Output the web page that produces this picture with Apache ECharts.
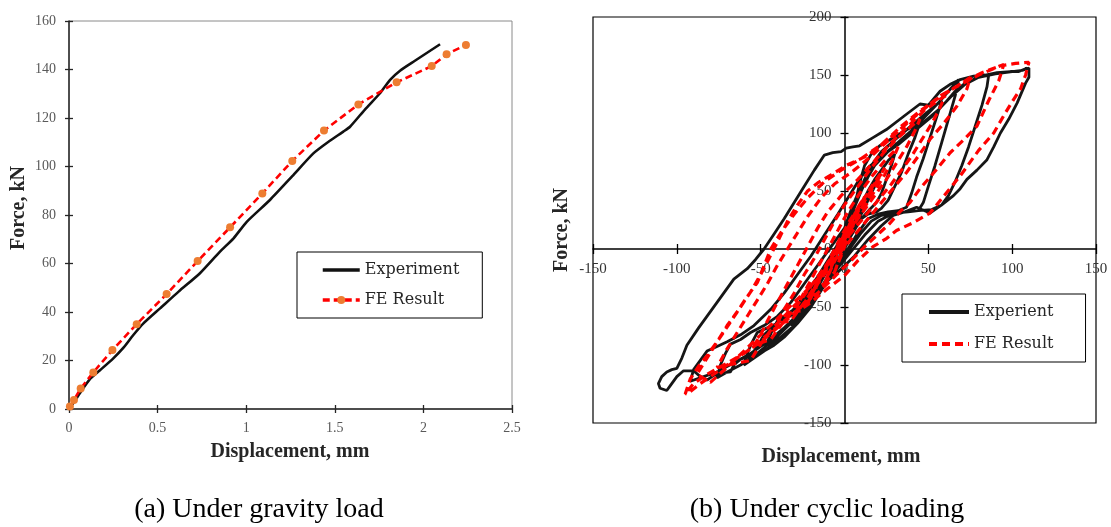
<!DOCTYPE html>
<html><head><meta charset="utf-8">
<script src="https://cdn.jsdelivr.net/npm/echarts@6/dist/echarts.min.js"></script>
<style>html,body{margin:0;padding:0;background:#fff;}#c{width:1111px;height:527px;}</style>
</head><body><div id="c"></div>
<script>
// ---------- (a) gravity load ----------
const gravityXTicks = [0, 0.5, 1, 1.5, 2, 2.5];
const gravityYTicks = [0, 20, 40, 60, 80, 100, 120, 140, 160];
const gravityExperiment = [[0,0],[0.03,3],[0.062,6.6],[0.12,12.5],[0.175,16],[0.25,20.9],[0.31,25.5],[0.363,30.5],[0.42,35.3],[0.514,41.5],[0.62,48.5],[0.739,56],[0.852,64.9],[0.93,70.5],[1.003,77.2],[1.134,86.2],[1.26,96],[1.379,105.4],[1.47,110.5],[1.548,114.4],[1.586,116.4],[1.67,123.5],[1.755,130.2],[1.812,135.7],[1.868,139.5],[1.95,143.5],[2.094,150.4]];
const gravityFE = [[0.005,1],[0.028,3.7],[0.066,8.5],[0.137,15.1],[0.245,24.3],[0.382,35],[0.551,47.4],[0.726,61],[0.909,74.9],[1.091,88.9],[1.26,102.3],[1.439,114.8],[1.633,125.6],[1.849,134.7],[2.047,141.4],[2.131,146.3],[2.24,150.1]];

// ---------- (b) cyclic loading ----------
const cyclicXTicks = [-150, -100, -50, 0, 50, 100, 150];
const cyclicYTicks = [-150, -100, -50, 0, 50, 100, 150, 200];
const cyclicExperiment = [
[0,0],[4,14],[8,28],[12,40],[16,52],[20,62],[18,54],[14,42],[10,30],[6,18],[2,6],[-2,-6],[-6,-16],[-10,-26],[-14,-34],[-17,-40],[-20,-46],[-18,-38],[-14,-28],[-10,-18],[-6,-8],[-2,2],
[2,10],[6,24],[10,38],[14,50],[18,60],[22,68],[26,76],[30,82],[28,72],[25,60],[22,48],[19,40],[15,34],[10,26],[5,14],[0,2],[-5,-12],[-10,-24],[-15,-36],[-20,-46],[-25,-56],[-29,-62],[-32,-66],[-30,-58],[-27,-48],[-23,-42],[-18,-34],[-12,-22],[-6,-8],[0,6],
[3,20],[6,36],[8,50],[10,62],[12,72],[16,82],[21,89],[28,95],[36,102],[45,109],[42,96],[38,82],[34,66],[30,54],[26,42],[22,35],[19,32],[14,30],[10,26],[6,18],[2,6],[-3,-8],[-8,-22],[-14,-36],[-20,-50],[-28,-64],[-36,-76],[-42,-83],[-48,-88],[-46,-80],[-43,-70],[-40,-62],[-34,-56],[-28,-50],[-22,-40],[-16,-26],[-10,-12],[-4,4],
[0,16],[4,30],[8,46],[12,60],[16,72],[22,84],[30,94],[38,104],[46,114],[52,121],[58,128],[55,114],[51,96],[47,78],[43,62],[40,48],[37,36],[32,33],[26,32],[20,30],[14,26],[8,14],[2,0],[-6,-18],[-14,-36],[-22,-52],[-30,-66],[-38,-76],[-46,-86],[-54,-94],[-60,-100],[-58,-90],[-55,-80],[-52,-72],[-46,-68],[-40,-64],[-34,-58],[-28,-48],[-22,-36],[-16,-24],[-10,-10],[-4,4],
[2,20],[6,36],[10,50],[14,62],[18,72],[24,82],[32,92],[40,102],[48,114],[56,126],[62,136],[68,146],[66,132],[62,112],[58,92],[54,72],[50,54],[47,40],[44,33],[38,32],[30,31],[22,29],[16,24],[10,14],[4,2],[-4,-14],[-12,-30],[-22,-48],[-32,-64],[-42,-78],[-52,-90],[-62,-100],[-70,-106],[-76,-111],[-74,-100],[-71,-90],[-68,-82],[-62,-78],[-56,-72],[-48,-66],[-40,-58],[-32,-46],[-24,-30],[-16,-14],[-8,2],[0,18],
[4,34],[8,48],[12,60],[18,72],[26,84],[36,96],[46,108],[56,120],[64,132],[72,142],[80,148],[86,150],[85,140],[82,124],[78,106],[74,88],[70,72],[66,58],[62,46],[58,38],[52,34],[44,33],[36,32],[28,30],[20,24],[12,12],[4,-2],[-6,-20],[-16,-38],[-26,-54],[-36,-68],[-46,-80],[-56,-90],[-66,-98],[-76,-106],[-84,-110],[-92,-114],[-90,-104],[-86,-96],[-82,-88],[-76,-84],[-70,-80],[-62,-74],[-54,-66],[-44,-52],[-36,-38],[-28,-22],[-20,-6],[-12,12],[-4,30],
[2,44],[8,58],[14,70],[22,80],[32,90],[42,102],[52,114],[60,126],[66,136],[72,143],[80,148],[90,151],[100,153],[106,154],[110,156],[110,148],[108,143],[103,126],[98,112],[93,100],[89,88],[85,77],[79,68],[73,60],[69,52],[65,46],[58,38],[51,31],[46,34],[43,36],[36,32],[29,29],[22,20],[14,8],[6,-6],[-4,-20],[-12,-30],[-18,-36],[-24,-48],[-30,-56],[-36,-60],[-42,-66],[-48,-74],[-52,-84],[-56,-92],[-62,-95],[-66,-100],[-68,-106],[-74,-107],[-78,-109],[-82,-113],[-86,-110],[-90,-105],[-96,-105],[-100,-110],[-104,-118],[-106,-122],[-110,-120],[-111,-116],[-109,-110],[-106,-106],[-103,-104],[-100,-103],[-97,-94],[-94,-83],[-87,-68],[-80,-54],[-73,-40],[-66,-26],[-58,-17],[-53,-9],[-48,0],[-42,13],[-36,26],[-30,40],[-24,54],[-18,68],[-12,81],[-7,83],[-2,84],[1,87],[5,88],[9,89],[17,96],[25,103],[35,114],[45,125],[50,124],[57,136],[63,142],[69,146],[77,149],[84,150],[91,152],[99,153],[104,153],[109,156]
];
const cyclicFE = [
[-6,-20],[-3,-8],[0,4],[3,14],[6,24],[4,16],[1,6],[-2,-6],[-6,-20],
[-12,-30],[-8,-16],[-4,-2],[0,12],[4,24],[8,36],[12,45],[9,36],[5,24],[1,12],[-3,-2],[-7,-14],[-12,-30],
[-18,-34],[-13,-20],[-8,-6],[-3,8],[3,24],[9,38],[15,50],[22,65],[19,56],[14,44],[8,30],[2,16],[-4,0],[-10,-14],[-16,-30],[-22,-48],
[-20,-40],[-14,-24],[-8,-8],[-2,8],[4,24],[10,40],[17,56],[24,70],[20,60],[14,46],[8,32],[2,18],[-4,2],[-10,-14],[-16,-28],[-22,-42],[-27,-54],
[-28,-48],[-22,-32],[-16,-16],[-10,0],[-4,16],[2,32],[9,48],[16,62],[24,76],[32,88],[29,78],[24,64],[18,50],[12,36],[6,22],[0,8],[-6,-8],[-12,-22],[-18,-34],[-25,-48],[-32,-62],
[-40,-64],[-36,-52],[-30,-38],[-24,-22],[-18,-8],[-12,8],[-6,24],[0,38],[8,54],[16,70],[24,84],[32,96],[40,106],[45,112],[42,102],[37,88],[31,74],[25,60],[18,46],[11,32],[4,18],[-3,4],[-10,-12],[-17,-26],[-24,-40],[-30,-52],[-37,-64],[-44,-78],
[-54,-83],[-50,-74],[-46,-62],[-40,-46],[-34,-30],[-28,-14],[-22,2],[-16,18],[-10,32],[-2,46],[8,60],[18,76],[28,92],[38,106],[48,120],[56,128],[60,132],[57,122],[52,108],[46,94],[40,80],[34,68],[28,56],[20,42],[12,28],[4,14],[-4,0],[-12,-16],[-20,-32],[-28,-46],[-36,-58],[-44,-70],[-50,-82],[-56,-96],
[-76,-102],[-70,-86],[-64,-72],[-58,-58],[-52,-44],[-46,-30],[-40,-14],[-34,0],[-28,14],[-22,28],[-14,44],[-6,56],[4,66],[16,80],[28,96],[40,112],[52,126],[62,136],[70,143],[75,148],[73,138],[67,123],[59,108],[51,94.6],[44,80],[37,66],[30,54],[22,40],[14,26],[6,12],[-2,-2],[-10,-16],[-20,-32],[-30,-46],[-40,-60],[-50,-74],[-60,-88],[-70,-102],[-80,-115],
[-88,-108],[-82,-94],[-76,-80],[-70,-66],[-64,-54],[-58,-41],[-52,-29],[-44,0],[-38,14],[-30,30],[-22,44],[-12,58],[-2,68],[10,78],[22,90],[34,106],[46,120],[58,132],[70,143],[82,152],[95,159],[92,145],[86,128],[79,106],[71,94],[63,83],[54,67],[45,52],[39,40],[33,32],[27,22],[21,14],[12,2],[4,-10],[-6,-24],[-16,-38],[-26,-50],[-36,-62],[-46,-74],[-56,-86],[-66,-96],[-76,-106],[-86,-116],[-92,-123],
[-95,-125],[-92,-112],[-87,-101],[-82,-92],[-75,-78],[-68,-63],[-62,-50],[-56,-37],[-50,-22],[-46,-11],[-40,6],[-34,24],[-28,38],[-22,50],[-16,57],[-8,64],[1,72],[13,80],[24,92],[33,103],[45,118],[57,132],[67,140],[80,150],[93,158],[102,160],[110,161],[108,150],[105,138],[100,127],[95,115],[89,100],[80,85],[69,63],[60,47],[51,31],[40,22],[31,16],[25,9],[17,2],[8,-10],[0,-23],[-10,-34],[-20,-46],[-30,-56],[-40,-68],[-50,-80],[-60,-90],[-72,-100],[-82,-108],[-90,-116],[-95,-125]
];

const tickFont = 'Liberation Serif';
const chart = echarts.init(document.getElementById('c'), null, {renderer: 'canvas'});

// grid boxes (layout only)
const gridA = {left: 69, top: 21, width: 443, height: 388};
const gridB = {left: 593, top: 17, width: 503, height: 406};

function axisPair(gridIndex, ticks, labelColor, fontSize, lineColor, tickLen, margin, isX, offset) {
  const min = ticks[0], max = ticks[ticks.length - 1], interval = ticks[1] - ticks[0];
  const main = {
    type: 'value', gridIndex, min, max, interval, offset,
    position: isX ? 'bottom' : 'left',
    splitLine: {show: false},
    axisLine: {show: true, onZero: false, lineStyle: {color: lineColor, width: 1.5}},
    axisTick: {show: true, inside: false, length: tickLen, lineStyle: {color: lineColor, width: 1.3}},
    axisLabel: {show: true, margin, color: labelColor, fontFamily: tickFont, fontSize, showMinLabel: true, showMaxLabel: true, hideOverlap: false}
  };
  const inner = {
    type: 'value', gridIndex, min, max, interval, offset,
    position: isX ? 'bottom' : 'left',
    splitLine: {show: false},
    axisLine: {show: false, onZero: false},
    axisTick: {show: true, inside: true, length: tickLen, lineStyle: {color: lineColor, width: 1.3}},
    axisLabel: {show: false}
  };
  return [main, inner];
}

// offsets that move the cyclic axes onto the zero lines
const zeroOffsetX = -gridB.height * (0 - cyclicYTicks[0]) / (cyclicYTicks[cyclicYTicks.length - 1] - cyclicYTicks[0]);
const zeroOffsetY = -gridB.width * (0 - cyclicXTicks[0]) / (cyclicXTicks[cyclicXTicks.length - 1] - cyclicXTicks[0]);

const xA = axisPair(0, gravityXTicks, '#595959', 14, '#262626', 4, 12, true, 0);
const yA = axisPair(0, gravityYTicks, '#595959', 14, '#262626', 4, 13, false, 0);
const xB = axisPair(1, cyclicXTicks, '#333', 15, '#000', 5, 13, true, zeroOffsetX);
const yB = axisPair(1, cyclicYTicks, '#333', 15, '#000', 4, 13, false, zeroOffsetY);

const legendText = {fontFamily: 'DejaVu Serif', fontSize: 16, color: '#262626'};
const titleFont = 'bold 20px "Liberation Serif"';

chart.setOption({
  animation: false,
  backgroundColor: '#fff',
  grid: [
    Object.assign({show: true, borderColor: '#8a8a8a', borderWidth: 1, backgroundColor: 'transparent'}, gridA),
    Object.assign({show: true, borderColor: '#000', borderWidth: 1.2, backgroundColor: 'transparent'}, gridB)
  ],
  xAxis: [xA[0], xA[1], xB[0], xB[1]],
  yAxis: [yA[0], yA[1], yB[0], yB[1]],
  legend: [
    {
      data: [{name: 'Experiment', itemStyle: {opacity: 0}}, 'FE Result'],
      orient: 'vertical', left: 297, top: 252, padding: [10, 23, 10, 24],
      itemWidth: 37, itemHeight: 10, itemGap: 14,
      borderColor: '#000', borderWidth: 1, backgroundColor: '#fff',
      lineStyle: {width: 3.5}, textStyle: legendText, selectedMode: false
    },
    {
      data: [{name: 'Experient', itemStyle: {opacity: 0}}, {name: 'FE Result ', itemStyle: {opacity: 0}}],
      orient: 'vertical', left: 902, top: 294, padding: [10, 27, 10, 25],
      itemWidth: 40, itemHeight: 10, itemGap: 16,
      borderColor: '#000', borderWidth: 1, backgroundColor: '#fff',
      lineStyle: {width: 4}, textStyle: legendText, selectedMode: false
    }
  ],
  series: [
    {type: 'line', name: 'Experiment', xAxisIndex: 0, yAxisIndex: 0, data: gravityExperiment,
     symbol: 'none', smooth: 0.2, lineStyle: {color: '#111', width: 2.6}, itemStyle: {color: '#111'}},
    {type: 'line', name: 'FE Result', xAxisIndex: 0, yAxisIndex: 0, data: gravityFE,
     symbol: 'circle', symbolSize: 8, itemStyle: {color: '#ED7D31'},
     lineStyle: {color: '#FF0000', width: 2.6, type: [7, 4]}},
    {type: 'line', name: 'Experient', xAxisIndex: 2, yAxisIndex: 2, data: cyclicExperiment,
     symbol: 'none', lineStyle: {color: '#161616', width: 2.8}, itemStyle: {color: '#161616'}},
    {type: 'line', name: 'FE Result ', xAxisIndex: 2, yAxisIndex: 2, data: cyclicFE,
     symbol: 'none', lineStyle: {color: '#FF0000', width: 3.2, type: [8, 5]}, itemStyle: {color: '#FF0000'}}
  ],
  graphic: [
    {type: 'text', x: 19, y: 208, rotation: Math.PI / 2, style: {text: 'Force, kN', font: titleFont, fill: '#262626', align: 'center', verticalAlign: 'middle'}},
    {type: 'text', x: 290, y: 452, style: {text: 'Displacement, mm', font: titleFont, fill: '#262626', align: 'center', verticalAlign: 'middle'}},
    {type: 'text', x: 562, y: 230, rotation: Math.PI / 2, style: {text: 'Force, kN', font: titleFont, fill: '#262626', align: 'center', verticalAlign: 'middle'}},
    {type: 'text', x: 841, y: 457, style: {text: 'Displacement, mm', font: titleFont, fill: '#262626', align: 'center', verticalAlign: 'middle'}},
    {type: 'text', x: 259, y: 510, style: {text: '(a) Under gravity load', font: '28px "Liberation Serif"', fill: '#000', align: 'center', verticalAlign: 'middle'}},
    {type: 'text', x: 827, y: 510, style: {text: '(b) Under cyclic loading', font: '28px "Liberation Serif"', fill: '#000', align: 'center', verticalAlign: 'middle'}}
  ]
});
</script>
</body></html>
